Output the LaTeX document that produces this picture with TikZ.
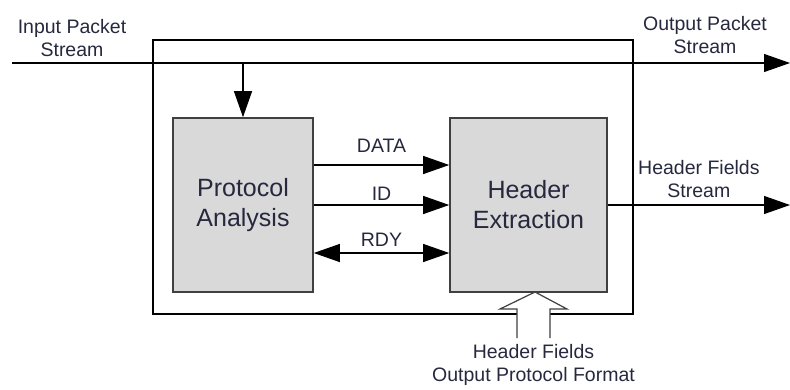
\documentclass[tikz,border=0pt]{standalone}
\usepackage{fontspec}
\setsansfont{Liberation Sans}
\usepackage{xcolor}
\usetikzlibrary{arrows.meta, positioning, calc}

\definecolor{labelink}{RGB}{38,40,62}
\definecolor{blockgray}{RGB}{217,217,217}

\begin{document}
\begin{tikzpicture}[x=1pt, y=-1pt, line width=1.1pt,
    >={Triangle[length=26pt, width=18pt]},
    every node/.style={font=\sffamily, text=labelink},
    lbl/.style={align=center, font=\sffamily\fontsize{19.5}{23.5}\selectfont},
    block/.style={draw=black!75, line width=1.6pt, fill=blockgray, align=center,
      minimum height=174pt, font=\sffamily\fontsize{25}{30}\selectfont}]
  \useasboundingbox (0,0) rectangle (790,389);

  \node[draw, minimum width=480pt, minimum height=274pt, inner sep=0pt] (frame) at (393,177) {};
  \node[block, minimum width=140pt] (pa) at (243,205) {Protocol\\Analysis};
  \node[block, minimum width=157pt] (he) at (528.5,205) {Header\\Extraction};

  \coordinate (in) at (12,63);
  \coordinate (out) at (790,63);
  \coordinate (fields) at (790,205);

  \draw[->] (in) -- (out);
  \draw[->] (pa.north |- in) -- (pa.north);
  \node[lbl] at (72,38) {Input Packet\\Stream};
  \node[lbl] at (705,35) {Output Packet\\Stream};

  \draw[->] (pa.east |- 0,165) -- (he.west |- 0,165) node[lbl, midway, above=9pt] {DATA};
  \draw[->] (pa.east |- 0,205) -- (he.west |- 0,205) node[lbl, midway, above=1pt] {ID};
  \draw[<->] (pa.east |- 0,253) -- (he.west |- 0,253) node[lbl, midway, above=3pt] {RDY};

  \draw[->] (he.east) -- (fields) node[lbl, midway, above=3pt] {Header Fields\\Stream};

  % hollow input arrow from below
  \coordinate (fmt) at (533.5,338);
  \filldraw[fill=white, line width=1.2pt, draw=black!75]
    (517,338) -- (517,309) -- (500,309) -- (535,292) -- (567,309) -- (550,309) -- (550,338);
  \node[lbl, below=2pt of fmt] {Header Fields\\Output Protocol Format};
\end{tikzpicture}
\end{document}
